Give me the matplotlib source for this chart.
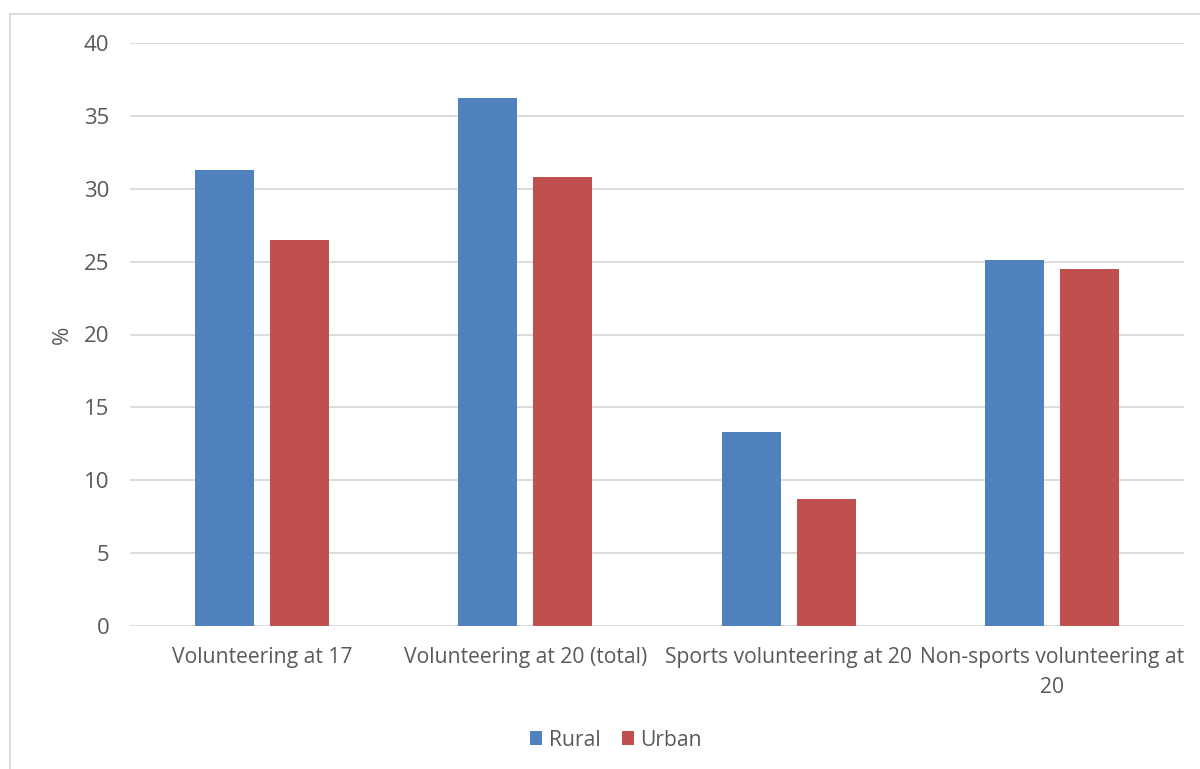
import numpy as np
import matplotlib.pyplot as plt
from matplotlib.patches import Rectangle

categories = ['Volunteering at 17', 'Volunteering at 20 (total)',
              'Sports volunteering at 20', 'Non-sports volunteering at\n20']
rural = [31.3, 36.2, 13.3, 25.1]
urban = [26.5, 30.8, 8.7, 24.5]

text_color = '#595959'
plt.rcParams['font.family'] = ['Open Sans', 'DejaVu Sans']

fig = plt.figure(figsize=(12, 7.69), dpi=100)
ax = fig.add_axes([130 / 1200, 1 - 626 / 769, (1184 - 130) / 1200, (626 - 43) / 769])

x = np.arange(len(categories))
w = 0.224
ax.bar(x - 0.142, rural, w, color='#4F81BD', label='Rural', zorder=3)
ax.bar(x + 0.142, urban, w, color='#C0504D', label='Urban', zorder=3)

ax.set_xlim(-0.5, len(categories) - 0.5)
ax.set_ylim(0, 40)
ax.set_yticks(range(0, 41, 5))
ax.yaxis.grid(True, color='#D9D9D9', lw=1.3, zorder=0)
for s in ax.spines.values():
    s.set_visible(False)
ax.tick_params(length=0, labelsize=16, colors=text_color)
ax.tick_params(axis='y', pad=15)
ax.tick_params(axis='x', pad=15, labelsize=15.2)
ax.set_xticks(x)
ax.set_xticklabels(categories, linespacing=1.55)
ax.set_ylabel('%', fontsize=16, color=text_color, labelpad=8)

ax.legend(loc='center', bbox_to_anchor=(616 / 1200, 1 - 740 / 769), bbox_transform=fig.transFigure,
          ncol=2, frameon=False, fontsize=15.2, labelcolor=text_color,
          handlelength=0.6, handleheight=0.6, handletextpad=0.3, columnspacing=1.0)

fig.patches.append(Rectangle((10 / 1200, -0.01), 1.2, 1 - 14 / 769 + 0.01,
                             transform=fig.transFigure, fill=False,
                             edgecolor='#D9D9D9', lw=1.3))

fig.savefig('out.png', dpi=100)
